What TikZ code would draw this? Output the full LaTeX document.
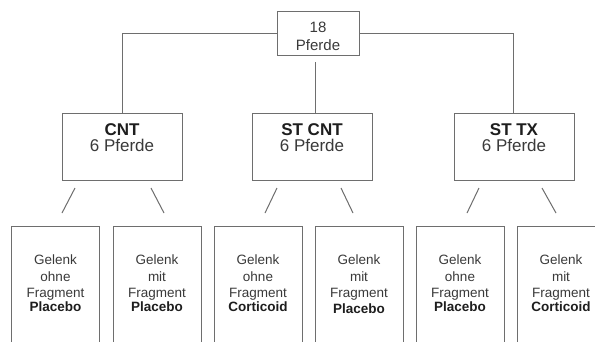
\documentclass[tikz,border=0pt]{standalone}
\usepackage{fontspec}
\setmainfont{Liberation Sans}
\definecolor{linegray}{HTML}{6E6E6E}
\definecolor{txtgray}{HTML}{3A3A3A}
\definecolor{boldgray}{HTML}{1E1E1E}
\tikzset{
  box/.style={draw=linegray, line width=1pt, inner sep=0pt, fill=white},
  conn/.style={draw=linegray, line width=1pt},
  toptxt/.style={anchor=base, inner sep=0pt, text=txtgray, font=\fontsize{15}{17}\selectfont},
  midtxt/.style={anchor=base, inner sep=0pt, text=txtgray, font=\fontsize{17}{19}\selectfont},
  midbold/.style={anchor=base, inner sep=0pt, text=boldgray, font=\fontsize{17}{19}\selectfont\bfseries},
  lowtxt/.style={anchor=base, inner sep=0pt, text=txtgray, font=\fontsize{13.5}{15}\selectfont},
  lowbold/.style={anchor=base, inner sep=0pt, text=boldgray, font=\fontsize{13.5}{15}\selectfont\bfseries},
}
\begin{document}
\begin{tikzpicture}[x=1pt,y=-1pt]
\clip (0,0) rectangle (595,341);
\fill[white] (0,0) rectangle (595,341);
% top box
\node[box, minimum width=82pt, minimum height=44pt] (top) at (318,33.5) {};
\node[toptxt] (t1) at (318,32) {18};
\node[toptxt] (t2) at (318,50) {Pferde};
% middle boxes
\node[box, minimum width=120pt, minimum height=67pt] (cnt) at (122,146.5) {};
\node[box, minimum width=120pt, minimum height=67pt] (stcnt) at (312,146.5) {};
\node[box, minimum width=120pt, minimum height=67pt] (sttx) at (514,146.5) {};
\node[midbold] (cntA) at (122,135) {CNT};
\node[midtxt] (cntB) at (122,151) {6 Pferde};
\node[midbold] (stcntA) at (312,135) {ST CNT};
\node[midtxt] (stcntB) at (312,151) {6 Pferde};
\node[midbold] (sttxA) at (514,135) {ST TX};
\node[midtxt] (sttxB) at (514,151) {6 Pferde};
% connectors top
\draw[conn] (top.west) -| (cnt.north);
\draw[conn] (top.east) -| ([xshift=-1pt]sttx.north);
\coordinate (cv) at (315,62);
\draw[conn] (cv) -- (cv |- stcnt.north);
% diagonals
\coordinate (d1a) at (75,188);  \coordinate (d1b) at (62,213);
\coordinate (d2a) at (151,188); \coordinate (d2b) at (164,213);
\coordinate (d3a) at (277,188); \coordinate (d3b) at (265,213);
\coordinate (d4a) at (341,188); \coordinate (d4b) at (353,213);
\coordinate (d5a) at (479,188); \coordinate (d5b) at (467,213);
\coordinate (d6a) at (542,188); \coordinate (d6b) at (556,213);
\foreach \i in {1,...,6} {\draw[conn] (d\i a) -- (d\i b);}
% bottom boxes
\foreach \n/\cx in {b1/55.5, b2/157, b3/258, b4/359, b5/460, b6/561} {
  \node[box, minimum width=88pt, minimum height=140pt, anchor=north] (\n) at (\cx,226) {};
}
% bottom texts
\node[lowtxt] (b1l1) at (55.5,264) {Gelenk};
\node[lowtxt] (b1l2) at (55.5,281) {ohne};
\node[lowtxt] (b1l3) at (55.5,297.5) {Fragment};
\node[lowbold] (b1l4) at (55.5,311) {Placebo};
\node[lowtxt] (b2l1) at (157,264) {Gelenk};
\node[lowtxt] (b2l2) at (157,281) {mit};
\node[lowtxt] (b2l3) at (157,297.5) {Fragment};
\node[lowbold] (b2l4) at (157,311) {Placebo};
\node[lowtxt] (b3l1) at (258,264) {Gelenk};
\node[lowtxt] (b3l2) at (258,281) {ohne};
\node[lowtxt] (b3l3) at (258,297.5) {Fragment};
\node[lowbold] (b3l4) at (258,311) {Corticoid};
\node[lowtxt] (b4l1) at (359,264) {Gelenk};
\node[lowtxt] (b4l2) at (359,281) {mit};
\node[lowtxt] (b4l3) at (359,297.5) {Fragment};
\node[lowbold] (b4l4) at (359,313) {Placebo};
\node[lowtxt] (b5l1) at (460,264) {Gelenk};
\node[lowtxt] (b5l2) at (460,281) {ohne};
\node[lowtxt] (b5l3) at (460,297.5) {Fragment};
\node[lowbold] (b5l4) at (460,311) {Placebo};
\node[lowtxt] (b6l1) at (561,264) {Gelenk};
\node[lowtxt] (b6l2) at (561,281) {mit};
\node[lowtxt] (b6l3) at (561,297.5) {Fragment};
\node[lowbold] (b6l4) at (561,311) {Corticoid};
\end{tikzpicture}
\end{document}
